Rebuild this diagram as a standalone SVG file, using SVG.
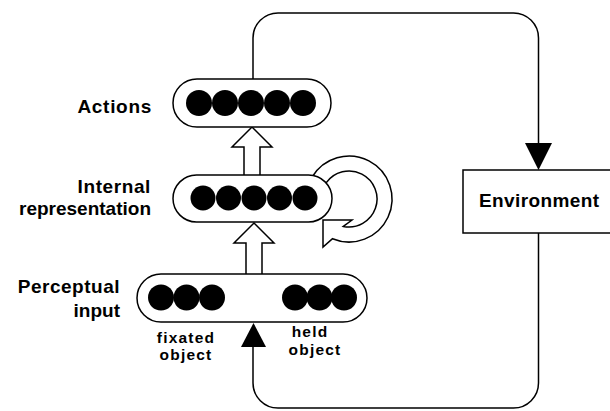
<svg xmlns="http://www.w3.org/2000/svg" width="610" height="411" viewBox="0 0 610 411">
<style>
.lbl{font-family:"Liberation Sans",Arial,Helvetica,sans-serif;font-weight:bold;font-size:19px;fill:#000}
.sm{font-family:"Liberation Sans",Arial,Helvetica,sans-serif;font-weight:bold;font-size:15.5px;letter-spacing:1.2px;fill:#000}
.box{fill:#fff;stroke:#000;stroke-width:1.5}
.unit{fill:#000}
.line{fill:none;stroke:#000;stroke-width:1.5}
.hollow{fill:#fff;stroke:#000;stroke-width:1.5;stroke-linejoin:miter}
.head{fill:#000}
</style>
<rect width="610" height="411" fill="#fff"/>
<g id="connectors">
  <path class="line" d="M253,79 V38 A25,25 0 0 1 278,13 H513.5 A25,25 0 0 1 538.5,38 V143"/>
  <polygon class="head" points="525,143 552,143 538.5,170"/>
  <path class="line" d="M538.5,233 V383 A25,25 0 0 1 513.5,408 H278 A25,25 0 0 1 253,383 V347"/>
  <polygon class="head" points="241,347 266,347 253.5,323"/>
  <path class="hollow" d="M244,176 V147 H232 L252,127 L272,147 H260 V176"/>
  <path class="hollow" d="M246,274 V243 H234 L254,223 L274,243 H262 V274"/>
  <path class="hollow" d="M311.8,177.5 A43,43 0 1 1 332.5,238.7 L323,247 V220 H352 L343.3,226.4 A28,28 0 1 0 326.1,182.9 Z"/>
</g>
<g id="actions">
  <rect class="box" x="173" y="79" width="158" height="48" rx="24"/>
  <circle class="unit" cx="199" cy="103" r="13"/>
  <circle class="unit" cx="225" cy="103" r="13"/>
  <circle class="unit" cx="251" cy="103" r="13"/>
  <circle class="unit" cx="277" cy="103" r="13"/>
  <circle class="unit" cx="303" cy="103" r="13"/>
  <text class="lbl" x="152" y="113" text-anchor="end" letter-spacing="0.7">Actions</text>
</g>
<g id="internal">
  <rect class="box" x="173" y="175" width="159" height="47" rx="23.5"/>
  <circle class="unit" cx="203" cy="198" r="12.5"/>
  <circle class="unit" cx="228.5" cy="198" r="12.5"/>
  <circle class="unit" cx="254" cy="198" r="12.5"/>
  <circle class="unit" cx="279.5" cy="198" r="12.5"/>
  <circle class="unit" cx="305" cy="198" r="12.5"/>
  <text class="lbl" x="151" y="193" text-anchor="end" letter-spacing="0.6">Internal</text>
  <text class="lbl" x="151" y="215" text-anchor="end">representation</text>
</g>
<g id="perceptual">
  <rect class="box" x="137" y="274" width="230" height="48" rx="24"/>
  <circle class="unit" cx="161" cy="297.5" r="13"/>
  <circle class="unit" cx="186.5" cy="297.5" r="13"/>
  <circle class="unit" cx="212" cy="297.5" r="13"/>
  <circle class="unit" cx="295" cy="297.5" r="13"/>
  <circle class="unit" cx="319.5" cy="297.5" r="13"/>
  <circle class="unit" cx="344" cy="297.5" r="13"/>
  <text class="lbl" x="120" y="293" text-anchor="end" letter-spacing="0.5">Perceptual</text>
  <text class="lbl" x="120" y="317" text-anchor="end">input</text>
  <text class="sm" x="186" y="342.5" text-anchor="middle">fixated</text>
  <text class="sm" x="186" y="360" text-anchor="middle">object</text>
  <text class="sm" x="310" y="337" text-anchor="middle">held</text>
  <text class="sm" x="315" y="354.5" text-anchor="middle">object</text>
</g>
<g id="environment">
  <rect class="box" x="463" y="170" width="160" height="63"/>
  <text class="lbl" x="479" y="207" font-size="20" letter-spacing="0.4">Environment</text>
</g>
</svg>
